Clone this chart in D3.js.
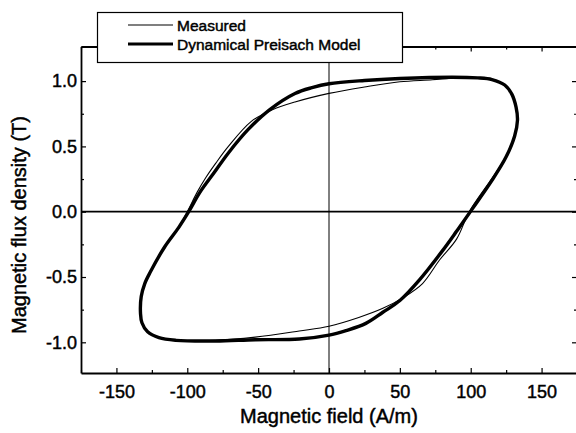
<!DOCTYPE html>
<html>
<head>
<meta charset="utf-8">
<script src="https://cdn.jsdelivr.net/npm/d3@7"></script>
<style>
  body { margin: 0; background: #fff; }
  text { font-family: "Liberation Sans", Arial, sans-serif; fill: #000; stroke: #000; stroke-width: 0.45px; }
</style>
</head>
<body>
<div id="chart"></div>
<script>
// series names
var seriesNames = ["Measured", "Dynamical Preisach Model"];

// axis ticks
var xTicks = [-150, -100, -50, 0, 50, 100, 150];
var yTicks = [-1.0, -0.5, 0.0, 0.5, 1.0];

// measured loop, [H (A/m), B (T)], traced clockwise
var measured = [
    [0, 0.906], [25, 0.955], [50, 0.995], [73, 1.01], [90, 1.025], [105, 1.02],
    [115, 1.01], [124, 0.97], [129, 0.9], [132, 0.8], [133, 0.7], [131, 0.58],
    [125, 0.42], [114, 0.24], [99, 0.0], [90, -0.21], [78, -0.37], [66, -0.55],
    [52, -0.66], [38, -0.74], [21, -0.81], [0, -0.877], [-21, -0.913], [-52, -0.96],
    [-80, -0.985], [-108, -0.985], [-120, -0.965], [-128, -0.92], [-132, -0.85],
    [-133, -0.78], [-132.5, -0.65], [-130, -0.55], [-126, -0.46], [-116, -0.27],
    [-106, -0.12], [-100, 0.0], [-93, 0.15], [-87, 0.26], [-80, 0.37], [-71, 0.5],
    [-55, 0.69], [-40, 0.78], [-24, 0.84], [0, 0.906]
];

// dynamical Preisach model loop
var model = [
    [0, 0.98], [25, 1.005], [50, 1.02], [87, 1.03], [105, 1.025], [115, 1.012],
    [124, 0.97], [129, 0.9], [132, 0.8], [133, 0.7], [131, 0.58], [125, 0.42],
    [115, 0.24], [101, 0.02], [90, -0.15], [80, -0.3], [64, -0.52], [50, -0.68],
    [38, -0.77], [26, -0.855], [12, -0.91], [0, -0.945], [-21, -0.975], [-52, -0.98],
    [-80, -0.99], [-108, -0.985], [-120, -0.965], [-128, -0.92], [-132, -0.85],
    [-133, -0.78], [-132.5, -0.65], [-130, -0.55], [-126, -0.46], [-116, -0.27],
    [-106, -0.12], [-99, 0.0], [-91, 0.15], [-81, 0.3], [-71, 0.45], [-57, 0.63],
    [-42, 0.78], [-24, 0.905], [-12, 0.95], [0, 0.98]
];

// set the dimensions and margins of the graph
var margin = {top: 46.5, right: -1, bottom: 60, left: 81},
    width = 576 - margin.left - margin.right,
    height = 433 - margin.top - margin.bottom;

var svg = d3.select("#chart").append("svg")
    .attr("width", 576)
    .attr("height", 433);

var g = svg.append("g")
    .attr("transform", "translate(" + margin.left + "," + margin.top + ")");

// set the ranges
var x = d3.scaleLinear().domain([-175, 175]).range([0, width]);
var y = d3.scaleLinear().domain([-1.235, 1.265]).range([height, 0]);

// zero lines
g.append("line")
    .attr("x1", 0).attr("x2", width)
    .attr("y1", y(0)).attr("y2", y(0))
    .attr("stroke", "#000").attr("stroke-width", 1.8);
g.append("line")
    .attr("x1", x(0)).attr("x2", x(0))
    .attr("y1", 0).attr("y2", height)
    .attr("stroke", "#000").attr("stroke-width", 1);

// frame with inward ticks
var minorX = d3.range(-175, 176, 25).filter(function(d) { return d % 50 !== 0; });
var minorY = [-0.75, -0.25, 0.25, 0.75];

function frame(sel, axis, ticks, len, fmt) {
    sel.call(axis.tickValues(ticks).tickSizeInner(-len).tickSizeOuter(0).tickFormat(fmt));
    sel.select(".domain").attr("stroke-width", 1.8);
    sel.selectAll(".tick line").attr("stroke-width", 1.2);
}

var xb = g.append("g").attr("transform", "translate(0," + height + ")");
frame(xb, d3.axisBottom(x), xTicks, 5, d3.format("d"));
var xbm = g.append("g").attr("transform", "translate(0," + height + ")");
frame(xbm, d3.axisBottom(x), minorX, 3, "");
xbm.select(".domain").remove();

var xt = g.append("g");
frame(xt, d3.axisTop(x), xTicks, 5, "");
var xtm = g.append("g");
frame(xtm, d3.axisTop(x), minorX, 3, "");
xtm.select(".domain").remove();

var yl = g.append("g");
frame(yl, d3.axisLeft(y), yTicks, 5, d3.format(".1f"));
var ylm = g.append("g");
frame(ylm, d3.axisLeft(y), minorY, 3, "");
ylm.select(".domain").remove();

var yr = g.append("g").attr("transform", "translate(" + width + ",0)");
frame(yr, d3.axisRight(y), yTicks, 5, "");
var yrm = g.append("g").attr("transform", "translate(" + width + ",0)");
frame(yrm, d3.axisRight(y), minorY, 3, "");
yrm.select(".domain").remove();

// tick label fonts
xb.selectAll(".tick text")
    .attr("y", 12)
    .style("font-size", "18px")
    .text(function(d) { return d3.format("d")(d).replace("\u2212", "-"); });
yl.selectAll(".tick text")
    .attr("x", -4)
    .style("font-size", "18px")
    .text(function(d) { return d3.format(".1f")(d).replace("\u2212", "-"); });

// loops
var line = d3.line()
    .x(function(d) { return x(d[0]); })
    .y(function(d) { return y(d[1]); })
    .curve(d3.curveCatmullRomClosed);

g.append("path")
    .datum(model.slice(0, -1))
    .attr("d", line)
    .attr("fill", "none")
    .attr("stroke", "#000")
    .attr("stroke-width", 3.4);

g.append("path")
    .datum(measured.slice(0, -1))
    .attr("d", line)
    .attr("fill", "none")
    .attr("stroke", "#000")
    .attr("stroke-width", 1.1);

// axis titles
svg.append("text")
    .attr("x", margin.left + x(0))
    .attr("y", 423)
    .attr("text-anchor", "middle")
    .style("font-size", "20px")
    .text("Magnetic field (A/m)");

svg.append("text")
    .attr("transform", "translate(26,225) rotate(-90)")
    .attr("text-anchor", "middle")
    .style("font-size", "20px")
    .text("Magnetic flux density (T)");

// legend
var legend = svg.append("g");
legend.append("rect")
    .attr("x", 97.5).attr("y", 12.5)
    .attr("width", 305).attr("height", 50)
    .attr("fill", "#fff")
    .attr("stroke", "#000")
    .attr("stroke-width", 1.2);

var legendWidths = [1.1, 3.2];
seriesNames.forEach(function(name, i) {
    var ly = 25 + i * 19;
    legend.append("line")
        .attr("x1", 128).attr("x2", 173)
        .attr("y1", ly).attr("y2", ly)
        .attr("stroke", "#000")
        .attr("stroke-width", legendWidths[i]);
    legend.append("text")
        .attr("x", 177)
        .attr("y", ly)
        .attr("dy", "0.36em")
        .style("font-size", "15.5px")
        .text(name);
});
</script>
</body>
</html>
